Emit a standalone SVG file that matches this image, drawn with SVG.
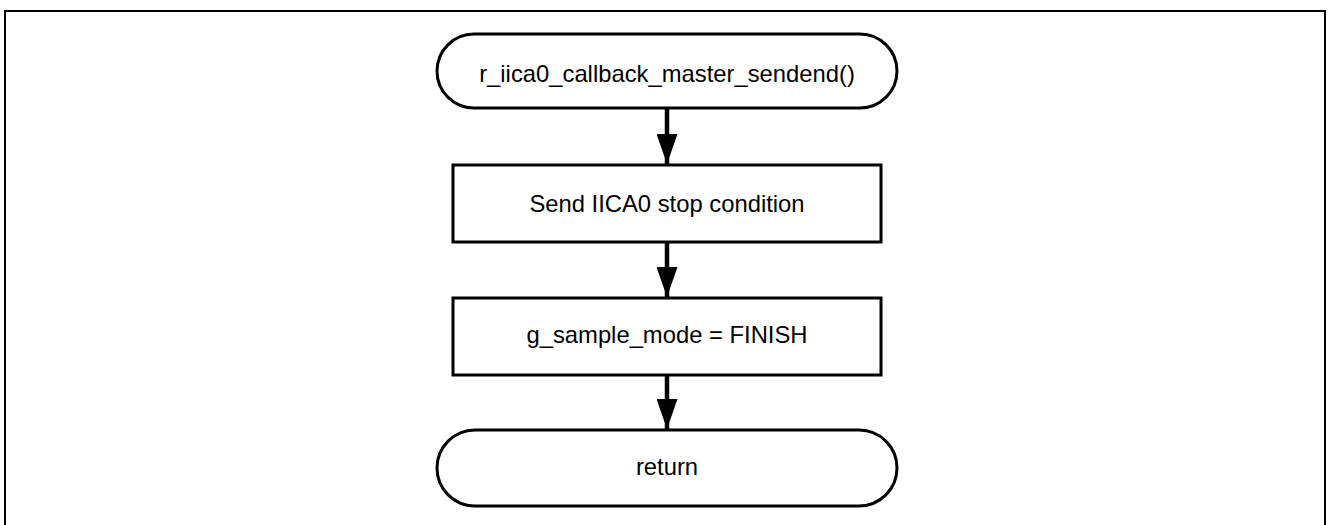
<svg xmlns="http://www.w3.org/2000/svg" width="1328" height="525" viewBox="0 0 1328 525">
<style>
.sh{fill:#fff;stroke:#000;stroke-width:3}
.t{font-family:"Liberation Sans",Arial,sans-serif;font-size:23.8px;fill:#000;text-anchor:middle}
.c{stroke:#000;stroke-width:4.5;fill:none}
</style>
<defs>
<marker id="ah" markerUnits="userSpaceOnUse" markerWidth="30" markerHeight="21" refX="30" refY="10.5" orient="auto" viewBox="0 0 30 21">
<path d="M0,0 L30,10.5 L0,21 Z" fill="#000"/>
</marker>
</defs>
<rect x="5" y="11" width="1320" height="530" fill="none" stroke="#000" stroke-width="2"/>
<g id="start">
<rect class="sh" x="437" y="34" width="460" height="74" rx="37" ry="37"/>
<text class="t" x="667" y="82">r_iica0_callback_master_sendend()</text>
</g>
<g id="stop">
<rect class="sh" x="453" y="165" width="428" height="77"/>
<text class="t" x="667" y="212">Send IICA0 stop condition</text>
</g>
<g id="mode">
<rect class="sh" x="453" y="298" width="428" height="77"/>
<text class="t" x="667" y="343">g_sample_mode = FINISH</text>
</g>
<g id="end">
<rect class="sh" x="437" y="430" width="460" height="76" rx="38" ry="38"/>
<text class="t" x="667" y="475">return</text>
</g>
<g id="connectors">
<line class="c" x1="667" y1="108" x2="667" y2="164" marker-end="url(#ah)"/>
<line class="c" x1="667" y1="242" x2="667" y2="297" marker-end="url(#ah)"/>
<line class="c" x1="667" y1="375" x2="667" y2="429" marker-end="url(#ah)"/>
</g>
</svg>
